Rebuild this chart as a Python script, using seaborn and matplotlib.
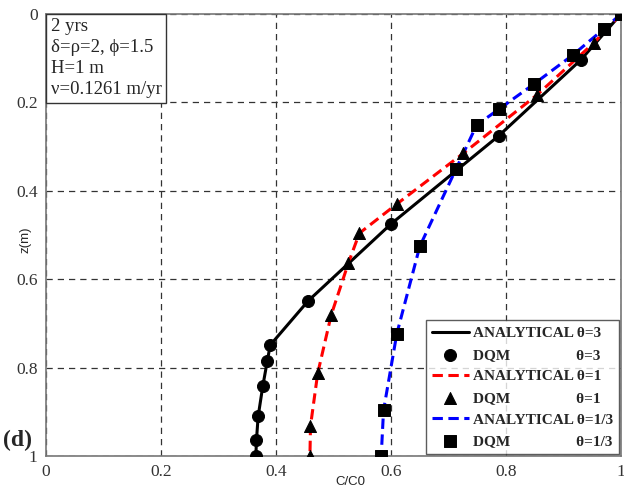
import matplotlib
matplotlib.use("Agg")
import matplotlib.pyplot as plt
import seaborn as sns
import pandas as pd
from matplotlib.ticker import FixedLocator, FixedFormatter

# --- data ---
z_theta3 = [0.0, 0.104, 0.276, 0.475, 0.649, 0.749, 0.784, 0.842, 0.910, 0.964, 1.0]
c_theta3 = [1.0, 0.930, 0.787, 0.600, 0.456, 0.390, 0.385, 0.377, 0.369, 0.366, 0.365]

z_theta1 = [0.0, 0.065, 0.183, 0.315, 0.430, 0.496, 0.563, 0.681, 0.813, 0.932, 1.0]
c_theta1 = [1.0, 0.953, 0.854, 0.726, 0.610, 0.545, 0.526, 0.496, 0.4725, 0.460, 0.459]

z_theta13 = [0.0, 0.034, 0.093, 0.158, 0.216, 0.251, 0.351, 0.526, 0.724, 0.897, 1.0]
c_theta13 = [1.0, 0.970, 0.916, 0.849, 0.787, 0.749, 0.713, 0.650, 0.610, 0.587, 0.583]

ticks = [0, 0.2, 0.4, 0.6, 0.8, 1]
tick_labels = ["0", "0.2", "0.4", "0.6", "0.8", "1"]

info_lines = ["2 yrs", "δ=ρ=2, ϕ=1.5", "H=1 m", "ν=0.1261 m/yr"]

sns.set_style("white")
plt.rcParams['font.family'] = ['Liberation Serif', 'DejaVu Serif']

fig = plt.figure(figsize=(6.24, 4.90), dpi=100)
ax = fig.add_axes([46/624, 1-456/490, 575/624, 442/490])

d3 = pd.DataFrame({"c": c_theta3, "z": z_theta3})
d1 = pd.DataFrame({"c": c_theta1, "z": z_theta1})
d13 = pd.DataFrame({"c": c_theta13, "z": z_theta13})

lw = 2.2
ms = 75
dash = [3.4, 1.8]
dqm_pad = "                 "
sns.lineplot(data=d3, x="c", y="z", sort=False, estimator=None, color="black",
             lw=lw, ax=ax, label="ANALYTICAL θ=3")
sns.scatterplot(data=d3, x="c", y="z", marker="o", color="black", s=ms,
                edgecolor="black", ax=ax, label="DQM" + dqm_pad + "θ=3", zorder=3)
sns.lineplot(data=d1, x="c", y="z", sort=False, estimator=None, color="red",
             lw=lw, ax=ax, label="ANALYTICAL θ=1")
ax.lines[-1].set_dashes(dash)
sns.scatterplot(data=d1, x="c", y="z", marker="^", color="black", s=ms,
                edgecolor="black", ax=ax, label="DQM" + dqm_pad + "θ=1", zorder=3)
sns.lineplot(data=d13, x="c", y="z", sort=False, estimator=None, color="blue",
             lw=lw, ax=ax, label="ANALYTICAL θ=1/3")
ax.lines[-1].set_dashes(dash)
sns.scatterplot(data=d13, x="c", y="z", marker="s", color="black", s=ms,
                edgecolor="black", ax=ax, label="DQM" + dqm_pad + "θ=1/3", zorder=3)

ax.set_xlim(0, 1)
ax.set_ylim(1, 0)
ax.xaxis.set_major_locator(FixedLocator(ticks))
ax.xaxis.set_major_formatter(FixedFormatter(tick_labels))
ax.yaxis.set_major_locator(FixedLocator(ticks))
ax.yaxis.set_major_formatter(FixedFormatter(tick_labels))
ax.tick_params(axis="both", labelsize=12.5, labelcolor="#333333", length=0, pad=6)
ax.grid(True, color="#333333", linestyle=(0, (5, 4)), linewidth=0.9)
for s in ax.spines.values():
    s.set_color("#777777")
    s.set_linewidth(1.2)

ax.set_xlabel("C/C0", family="Liberation Sans", fontsize=9.5)
ax.set_ylabel("z(m)", family="Liberation Sans", fontsize=9.5)
ax.xaxis.set_label_coords(0.53, -0.045)
ax.yaxis.set_label_coords(-0.026, 0.49)

leg = ax.legend(loc="lower right", frameon=True, fancybox=False,
                prop={"family": "Liberation Serif", "weight": "bold", "size": 11},
                handlelength=2.4, handletextpad=0.3, labelspacing=0.52,
                borderpad=0.4, borderaxespad=0.1, markerscale=1.0)
leg.get_frame().set_edgecolor("#333333")
leg.get_frame().set_linewidth(1.0)

ax.text(0.008, 0.99, "\n".join(info_lines), transform=ax.transAxes,
        ha="left", va="top", fontsize=13.5, linespacing=1.3,
        bbox=dict(boxstyle="square,pad=0.25", facecolor="white",
                  edgecolor="#333333", linewidth=1.0))

fig.text(3/624, 1-440/490, "(d)", fontsize=17, weight="bold", ha="left", va="center")

fig.savefig("out.png", dpi=100)
